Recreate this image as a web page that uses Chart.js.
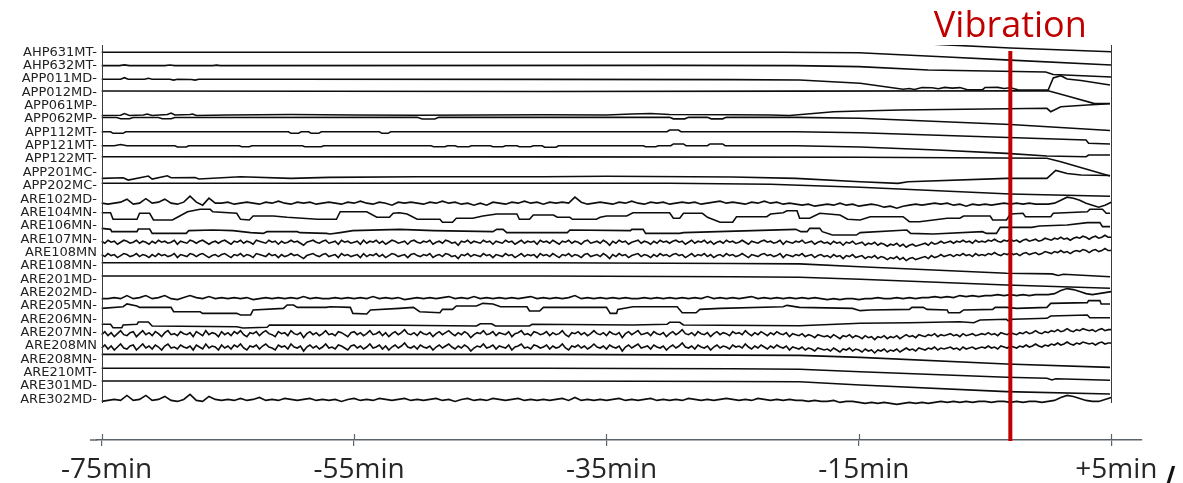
<!DOCTYPE html>
<html>
<head>
<meta charset="utf-8">
<title>Channel traces around the vibration</title>
<script src="https://cdn.jsdelivr.net/npm/chart.js@4.4.1/dist/chart.umd.min.js"></script>
<style>
  html, body { margin: 0; padding: 0; background: #fff; }
  #wrap { width: 1183px; height: 483px; }
</style>
</head>
<body>
<div id="wrap"><canvas id="traces" width="1183" height="483"></canvas></div>
<script>
// row labels, top to bottom
const channelLabels = [
  "AHP631MT-", "AHP632MT-", "APP011MD-", "APP012MD-", "APP061MP-", "APP062MP-",
  "APP112MT-", "APP121MT-", "APP122MT-", "APP201MC-", "APP202MC-", "ARE102MD-",
  "ARE104MN-", "ARE106MN-", "ARE107MN-", "ARE108MN", "ARE108MN-", "ARE201MD-",
  "ARE202MD-", "ARE205MN-", "ARE206MN-", "ARE207MN-", "ARE208MN", "ARE208MN-",
  "ARE210MT-", "ARE301MD-", "ARE302MD-"
];
const timeTicks = [-75, -55, -35, -15, 5]; // minutes
const vibrationTime = -3;

// noisy channels are sampled evenly from -75 to +5 min
const sampleStart = -75;
const sampleEnd = 5;

// slow channels: [minute, level]; level is offset from the row, up is positive
const aboveTop = [[-75,0],[-21,0],[-15,-1],[-8,-6],[-3,-9],[5,-12.8]];
const ahp631mt = [[-75,0],[-21,0],[-15,-0.4],[-8,-4.7],[-3,-7.8],[5,-12.7]];
const ahp632mt = [[-75,0],[-73.6,0],[-73.2,0.8],[-72.8,0],[-70,0],[-69.6,0.7],[-69.2,0],[-66.2,0],[-65.9,0.5],[-65.6,0],
  [-30,0.3],[-20,0],[-15,-1],[-9.5,-4.3],[-0.2,-6.3],[0.4,-8.8],[5,-11.3]];
const app011md = [[-75,-0.3],[-73.5,-0.3],[-73.2,1.3],[-72.9,-0.3],[-71.6,-0.3],[-71.3,0.7],[-71,-0.3],[-69.6,-0.3],
  [-69.3,-1.1],[-69,-0.3],[-67.9,-0.5],[-67.6,-1.1],[-67.3,-0.3],[-60,-0.3],[-40,-0.4],[-25,-0.6],[-19.7,-1],
  [-14.9,-4.3],[-11.5,-10.3],[-11,-9.5],[-10.6,-10.5],[-10,-8.5],[-9.2,-8.8],[-8.7,-9.8],[-8.2,-8.4],[-7.6,-9.1],
  [-7,-8.6],[-6.4,-10.7],[-5.2,-10.7],[-5,-8.5],[-4,-8.4],[-3.5,-9.5],[-3,-8.7],[-2.4,-10.8],[0,-11],[0.4,1],
  [1,3.3],[1.5,0],[2.6,-1.5],[4.9,-6]];
const app012md = [[-75,1.3],[-40,0.9],[-20,1.2],[0,1.6],[1.8,-4.6],[3.6,-11],[4.9,-11.2]];
const app061mp = [[-75,-9.8],[-73.5,-9.6],[-73.2,-7.8],[-72.8,-9.8],[-71.7,-9.3],[-71.4,-8.3],[-71,-9.8],[-69.8,-8.8],
  [-69.5,-7.3],[-69.2,-9.3],[-68,-8.8],[-67.8,-8.3],[-67.5,-9.8],[-65,-9.3],[-60,-8.8],[-55,-9.3],[-50,-9.6],
  [-45,-9.3],[-40,-9.1],[-35,-9.3],[-33,-8.3],[-31.5,-7.8],[-30,-8.8],[-25,-9.1],[-22,-9.3],[-20.5,-9.8],
  [-17,-6],[-14.9,-5.3],[-11.7,-4.3],[-3.3,-3],[-0.1,-2.6],[0.2,-6],[1,-1],[3.1,0.7],[4.9,2]];
const app062mp = [[-75,1.5],[-73.8,1.5],[-73.5,0.3],[-72.8,0.3],[-72.5,1.5],[-70.5,1.6],[-70.2,0.3],[-69.5,0.3],
  [-69.2,1.6],[-50,1.7],[-49.6,0],[-48.6,0],[-48.3,1.7],[-30,1.7],[-29.7,0.2],[-28.8,0.2],[-28.5,1.7],[-27,1.7],
  [-26.7,0.2],[-25.8,0.2],[-25.5,1.7],[-20,1.7],[-14.9,0.8],[-3,-5.5],[4.9,-11.4]];
const app112mt = [[-75,0.7],[-74.3,0.7],[-74.1,-0.9],[-73.3,-0.9],[-73.1,0.7],[-60.2,0.7],[-60,-0.9],[-59.4,-0.9],
  [-59.2,0.7],[-58.6,0.7],[-58.4,-0.9],[-57.8,-0.9],[-57.6,0.7],[-53,0.7],[-52.8,-0.9],[-52.3,-0.9],[-52.1,0.7],
  [-30.2,0.7],[-30,2.4],[-29.3,2.4],[-29.1,0.7],[-20,0.7],[-14.9,-0.3],[3,-7.6],[3.2,-10.9],[4.9,-11.6]];
const app121mt = [[-75,0],[-74,0],[-73.5,1.2],[-73,0],[-69.2,0],[-69,-1.3],[-68.3,-1.3],[-68.1,0],[-64.1,0],[-63.9,-1],
  [-63.3,-1],[-63.1,0],[-59.1,0],[-58.9,-1],[-57.6,-1],[-57.4,0],[-48.9,0],[-48.7,-1],[-47.8,-1],[-47.6,0],[-47,0],
  [-46.8,-1],[-45.9,-1],[-45.7,0],[-44.2,0],[-44,-1],[-43.2,-1],[-43,0],[-42.1,0],[-41.9,-1],[-41,-1],[-40.8,0],
  [-40.1,0],[-39.9,-1.5],[-39,-1.5],[-38.8,0],[-32.1,0],[-31.9,-1],[-31.1,-1],[-30.9,0],[-29.9,0],[-29.7,1.8],
  [-28.9,1.8],[-28.7,0],[-27,0],[-26.8,1.8],[-25.8,1.8],[-25.6,0],[-20,0],[-14.9,-1.3],[-8.8,-4.3],[-3.3,-7.6],
  [-0.1,-10.3],[3,-11],[3.2,-9.3],[4.9,-9.3]];
const app122mt = [[-75,2.4],[-40,2.2],[-15,1.8],[-0.1,0.8],[1,-2.6],[4.9,-16.9]];
const app201mc = [[-75,-5.9],[-73.3,-5.3],[-72.9,-7.6],[-71.3,-3.6],[-71,-6.6],[-69.8,-3.3],[-69.5,-5.3],[-67.6,-5],
  [-67.3,-6.6],[-64,-4.3],[-60,-5.9],[-57,-4.9],[-50,-4.3],[-40,-4.3],[-35,-3.8],[-25,-4.6],[-20,-5.9],[-14.9,-9.3],
  [-11.9,-10.9],[-11.1,-9.3],[-3.3,-5.9],[-0.1,-5.9],[0.6,2],[1.5,-1.1],[2.6,-2.6],[4.9,-3.1]];
const app202mc = [[-75,2.5],[-30,2.5],[-22,1.5],[-19.7,0.5],[-14.9,-1.5],[-3,-8.2],[4.9,-10.5]];

// stepped channels
const are104mn = [[-75,-0.2],[-74.3,-0.2],[-74.1,-6.8],[-72.2,-6.8],[-72,-0.8],[-71.2,-0.8],[-70.9,-7.5],[-69.4,-7.5],
  [-69,-4.8],[-68.2,0.8],[-67.2,3.2],[-66.4,3.2],[-66.2,0.8],[-64.3,-0.8],[-64,-6.8],[-63.3,-7.5],[-63,-3.5],
  [-61.4,-3.5],[-60.3,-4.8],[-59.1,-5.8],[-57.9,-6.8],[-56.4,-6.8],[-56.1,0.8],[-54,0.8],[-53.2,-4.8],[-52.2,-4.8],
  [-51.9,-0.8],[-51.4,-0.2],[-50.8,-1.5],[-50,-6.8],[-48.2,-6.8],[-48,-9.8],[-47.2,-9.8],[-46.9,-5.8],[-45.6,-5.8],
  [-44.8,-3.5],[-43.7,-1.5],[-42.1,-1.5],[-41.9,-6.8],[-41.1,-6.8],[-40.8,-2.5],[-39.2,-2.5],[-38.9,-4.8],
  [-37.9,-4.8],[-37.7,-6.8],[-35.8,-6.8],[-35.5,-4.8],[-35,-3.5],[-33.4,-3.5],[-32.9,-0.2],[-30,-0.2],[-29.7,-5.8],
  [-29.2,-5.8],[-28.9,-0.8],[-27.4,-0.8],[-27,-4.8],[-26.6,-6.8],[-26,-9.8],[-25,-9.8],[-24.7,-4.2],[-22.3,-4.2],
  [-22,-1.5],[-21,-0.2],[-20.7,1.8],[-19.9,1.8],[-19.7,-5.8],[-18.9,-5.8],[-18.1,-0.8],[-16.5,-2.5],[-15.9,-6.8],
  [-14.9,-7.5],[-14.1,-4.2],[-11.5,-4.2],[-11,-9.2],[-10.2,-9.2],[-8,-5.8],[-7,-5.8],[-6.7,-3.5],[-4.6,-3.5],
  [-4.4,-7.5],[-3.3,-7.5],[-3,-1.5],[-2,-0.8],[-1.8,-4.2],[0.2,-4.2],[0.4,-0.8],[3.1,0.8],[3.3,3.2],[4.3,3.2],
  [4.6,-0.8],[4.9,-0.8]];
const are106mn = [[-75,-2.5],[-74.3,-3.5],[-74.2,-5.8],[-72.2,-5.8],[-72.1,-3.2],[-71.2,-3.2],[-71,-7.5],[-68.3,-7.5],
  [-68.1,-4.8],[-66.2,-4.2],[-64.6,-4.8],[-63.2,-6.8],[-62.2,-7.5],[-61.9,-5.8],[-59.5,-5.8],[-59.3,-6.8],
  [-57.2,-7.5],[-56.9,-8.2],[-56.1,-6.8],[-55.1,-4.8],[-51.4,-3.5],[-48.7,-4.8],[-44,-5.8],[-43.7,-3.5],[-43.2,-3.5],
  [-42.9,-6.8],[-38.1,-6.8],[-37.9,-4.2],[-33.1,-4.8],[-33,-3.5],[-32.1,-3.5],[-31.9,-7.5],[-29.2,-7.5],[-28.9,-6.8],
  [-20,-3.5],[-19.6,-5.8],[-19.1,-5.8],[-18.9,-2.5],[-18.1,-2.5],[-17.9,-5.8],[-17.1,-9.2],[-15.2,-9.2],[-14.9,-6.8],
  [-11.2,-4.2],[-10.9,-7.5],[-9.1,-8.2],[-5.2,-5.8],[-4.9,-7.5],[-4.1,-7.5],[-3.8,-1.5],[-1.3,-1.5],[-0.7,-0.2],
  [1.5,0.8],[3.1,3.2],[4.1,3.2],[4.3,-0.8],[4.9,-0.8]];
const are205mn = [[-75,-2.4],[-73.3,-0.8],[-73,2],[-72.2,0],[-72,-1.4],[-69.5,-1.4],[-69.3,-5.8],[-67.2,-5.8],[-67,-7.4],
  [-64.3,-7.4],[-64,-9],[-63.2,-9],[-63,-4],[-60.6,-2.4],[-60.3,1],[-59.8,1],[-59.5,-1.4],[-57.2,-1.4],[-56.9,-0.8],
  [-55.3,-1.4],[-55.1,-7.4],[-54,-8],[-53.7,-4],[-51.4,-2.4],[-50.3,-1.4],[-49.8,-5.8],[-48.2,-6.8],[-48,-3.4],
  [-47.2,-3.4],[-46.9,0],[-45.3,0],[-44.8,2.6],[-44,2],[-43.4,-0.8],[-41.3,-0.8],[-41.1,-5],[-40.3,-5],[-40,-1.4],
  [-35,-1.4],[-34.7,-7.4],[-34.2,-7.4],[-34.1,-3.4],[-32.9,-0.8],[-29.4,-0.8],[-29,-6.8],[-27.9,-6.8],[-27.6,-3.4],
  [-26,-2.4],[-21,-0.8],[-20.7,0.6],[-19.7,-1.4],[-15.5,-2.4],[-14.9,-4.7],[-14.1,-4],[-11,-3.4],[-10.8,-1.4],
  [-9.9,-1.4],[-9.6,-3.4],[-8,-4],[-7.9,-6.8],[-7,-6.8],[-6.7,-4],[-4.4,-3.4],[-4.2,-1.4],[-3.3,-1.4],[-2.5,-2.4],
  [-0.1,-1.4],[0.2,2.6],[3.1,3.3],[3.2,5.3],[4.1,5.3],[4.2,2],[4.9,2]];
const are206mn = [[-75,-5],[-74.3,-5],[-74.1,-8.4],[-73.4,-8.4],[-73.3,-5.7],[-72.2,-5],[-72.1,-2.7],[-71.3,-2.7],
  [-71,-6.7],[-64.3,-7.4],[-63.8,-8.7],[-61.9,-8],[-61.7,-5.7],[-51.4,-6],[-45.3,-6.7],[-45,-4.4],[-44.1,-4.4],
  [-43.8,-6.7],[-41.1,-6.7],[-40.9,-5],[-32.9,-5.7],[-30.2,-5],[-30,-3],[-29.2,-3],[-28.9,-5.7],[-19.7,-6.4],
  [-14.9,-4],[-11,-3.4],[-7,-2.4],[-5.9,-3.4],[-5.4,-0.7],[-3.3,0],[-3.2,-1.4],[-2.8,0],[-0.1,1],[0.2,3.3],
  [3.1,4.3],[3.3,1.6],[4.9,1.6]];

// flat channels in the lower block
const are108mnLow = [[-75,3.2],[-40,3.2],[-25,2.4],[-19.7,2],[-14.9,-0.8],[-3.3,-7.4],[0.3,-8],[0.8,-9.5],[1.2,-8.4],[4.9,-10.8]];
const are201md = [[-75,3.2],[-40,3.2],[-25,2.5],[-19.7,2],[-14.9,0],[-3.3,-5.8],[4.9,-9]];
const are208mnLow = [[-75,5],[-40,5],[-25,4.2],[-19.7,4],[-14.9,2],[-3.3,-4.6],[4.9,-8]];
const are210mt = [[-75,4.4],[-40,4.4],[-25,4],[-19.7,3.5],[-14.9,1],[-3.3,-4.6],[-0.1,-5.6],[0.3,-7.3],[0.6,-6],[4.9,-7.6]];
const are301md = [[-75,5],[-40,5],[-25,4.5],[-19.7,4.3],[-14.9,1],[-3.3,-5.6],[4.9,-8]];

// noisy channels: MD sensors every 0.5 min (161 samples)
const are102md = [
  -4,-5,-4,-3,0,-5,-4,0.5,-4,-3,
  0,-4,-5,-3,3,-3,-6,1,-4,-4,
  -3,-5,-4,-3,-4,-5,-3,-4,-2,-4,
  -5,-3,-4,-3,-5,-4,-3,-4,-5,-3,
  -4,-2,-4,-5,-3,-4,-6,-3,-4,-3,
  -4,-5,-3,-4,-2,-4,-3,-5,-4,-6,
  -4,-6,-3,-4,-5,-3,-4,-2,-4,-3,
  -5,-3,-4,-3,-4,2,-3,-5,-4,-3,
  -4,-5,-3,-4,-2,-4,-5,-3,-4,-3,
  -5,-4,-3,-4,-3,-5,-4,-3,-2,-4,
  -3,-4,-5,-3,-4,-2,-4,-3,-5,-4,
  -5,-6,-5,-7,-6,-5,-6,-4,-6,-5,
  -7,-6,-5,-6,-8,-7,-9,-7,-6,-5,
  -6,-5,-4,-5,-4,-6,-5,-7,-5,-6,
  -5,-6,-5,-4,-5,-4,-5,-4,-5,-5,
  -5,-4,-1,2,1,-1,-4,-6,-8,-6,-3
];
const are202md = [
  -6,-6,-5,-6,-3,-6,-5,-3,-6,-5,
  -3,-6,-7,-5,-3,-5,-6,-4,-6,-5,
  -6,-5,-6,-5,-7,-6,-5,-6,-5,-6,
  -5,-6,-4,-6,-5,-6,-6,-5,-6,-5,
  -6,-5,-6,-4,-6,-5,-6,-5,-7,-6,
  -5,-6,-5,-6,-5,-4,-6,-5,-6,-4,
  -6,-5,-6,-5,-6,-5,-6,-5,-4,-6,
  -5,-6,-5,-6,-5,-3,-6,-5,-6,-5,
  -6,-5,-6,-5,-6,-6,-5,-6,-5,-6,
  -5,-6,-5,-6,-5,-6,-4,-6,-5,-6,
  -5,-6,-5,-4,-6,-5,-6,-5,-6,-5,
  -6,-5,-6,-5,-6,-7,-6,-7,-6,-6,
  -7,-6,-6,-5,-6,-6,-5,-6,-5,-6,
  -5,-5,-4,-5,-4,-5,-3,-4,-3,-4,
  -3,-3,-2,-3,-2,-3,-2,-3,-2,-2,
  -2,-1,2,4,3,1,-1,-2,-1,0,1
];
const are302md = [
  -2,-1,0,-1,4,-1,0,4,-1,0,
  3,-1,-2,0,5,-1,-2,3,0,-1,
  0,-1,1,-1,0,2,-1,0,-1,1,
  0,-1,0,1,-1,0,-1,0,-2,0,
  1,-1,0,-1,1,0,-1,0,1,-1,
  0,-1,0,1,-1,0,-2,0,1,-1,
  0,-1,1,0,-1,0,1,-1,0,-1,
  0,-1,0,1,-1,2,-1,0,-1,0,
  -1,0,1,-1,0,-1,0,1,-1,0,
  -1,0,-1,1,0,-1,0,-1,0,1,
  0,-1,0,-1,1,0,-1,0,-1,0,
  -1,-1,-2,-1,-2,-2,-1,-3,-2,-2,
  -3,-4,-3,-4,-3,-4,-5,-4,-3,-4,
  -3,-4,-3,-2,-3,-2,-3,-2,-3,-2,
  -2,-3,-2,-2,-3,-2,-3,-2,-2,-3,
  -2,-1,2,4,3,1,-1,-2,-2,0,2
];

// MN sensors every 0.25 min (321 samples)
const are107mn = [
  -2,-4,-1,-3,-2,-5,-3,-1,-2,-4,
  -3,-1,-4,-2,-3,-5,-2,-4,-1,-3,
  -2,-4,-3,-1,-5,-2,-3,-4,-1,-2,
  -4,-2,-1,-3,-5,-3,-2,-4,-2,-1,
  -3,-5,-2,-3,-1,-4,-2,-3,-5,-1,
  -2,-3,-4,-1,-3,-2,-5,-2,-4,-3,
  -1,-3,-2,-4,-6,-3,-2,-1,-3,-4,
  -2,-1,-4,-3,-2,-5,-1,-3,-2,-4,
  -3,-2,-5,-1,-4,-2,-3,-1,-4,-2,
  -5,-3,-1,-2,-4,-3,-2,-5,-2,-1,
  -3,-4,-2,-3,-1,-5,-3,-2,-4,-1,
  -2,-4,-3,-6,-2,-3,-1,-4,-2,-3,
  -4,-1,-3,-2,-5,-2,-3,-4,-1,-3,
  -2,-5,-3,-1,-4,-2,-3,-2,-5,-1,
  -3,-2,-4,-1,-3,-5,-2,-3,-1,-4,
  -2,-3,-5,-2,-1,-4,-3,-2,-4,-1,
  -3,-6,-2,-4,-1,-3,-2,-5,-3,-2,
  -1,-4,-2,-3,-5,-2,-4,-1,-3,-2,
  -4,-2,-1,-3,-2,-5,-3,-1,-4,-2,
  -3,-1,-4,-2,-5,-3,-2,-4,-1,-3,
  -2,-4,-3,-1,-3,-5,-2,-3,-4,-2,
  -1,-3,-2,-4,-3,-1,-5,-2,-3,-4,
  -2,-3,-1,-4,-3,-2,-5,-3,-2,-4,
  -3,-5,-2,-4,-3,-6,-3,-4,-2,-5,
  -4,-3,-6,-4,-5,-3,-6,-4,-5,-7,
  -5,-6,-4,-7,-5,-8,-6,-5,-7,-6,
  -5,-4,-6,-3,-5,-4,-2,-4,-3,-2,
  -4,-2,-3,-1,-3,-2,-4,-1,-3,-2,
  -3,-1,-2,0,-2,-3,-1,-2,0,-2,
  -1,-3,-1,0,-2,-1,0,-2,-1,1,
  0,-1,1,0,2,0,1,-1,1,2,
  1,3,2,0,2,3,1,2,4,2,
  2
];
const are108mn = are107mn; // both sensors record the same signal
const are207mn = [
  -2,1,-3,0,-4,-1,2,-2,-3,0,
  1,-4,-1,2,-2,0,-3,1,-1,-4,
  0,2,-2,-1,-3,1,-1,-2,0,-4,
  1,-1,-3,2,-2,0,-1,-4,1,-2,
  0,-3,1,-1,2,-2,-4,0,-1,1,
  -3,0,2,-1,-2,-4,1,-1,0,-3,
  2,-1,-2,0,-5,-1,1,-2,0,-3,
  -1,2,-2,-1,-3,1,0,-2,-4,0,
  1,-2,0,-3,-1,2,-2,-1,1,-3,
  0,-4,-1,1,-2,0,3,-1,-2,0,
  -3,1,-1,-2,0,-4,-1,1,-2,0,
  2,-1,-3,0,-2,1,-1,-5,-2,0,
  -1,2,-2,-1,1,-3,0,-1,-2,1,
  -4,-1,0,2,-2,-1,-3,1,0,-2,
  -1,1,-3,0,-2,-1,2,-2,-4,0,
  -1,1,-2,0,-3,-1,2,-1,-2,0,
  -3,1,-1,-2,0,-5,-1,1,-2,0,
  2,-2,-1,0,-3,1,-1,-2,0,-4,
  -1,1,-2,0,3,-1,-2,0,-3,1,
  -1,-2,0,-4,-1,1,-2,0,-1,-3,
  1,-1,0,-2,2,-1,-3,0,-2,1,
  -1,-3,0,-2,1,-1,-2,0,-4,-1,
  -2,-3,-1,-4,-2,-3,-5,-2,-3,-4,
  -3,-5,-2,-4,-6,-3,-4,-2,-5,-3,
  -4,-6,-3,-5,-4,-7,-4,-5,-3,-6,
  -4,-5,-3,-6,-4,-2,-4,-3,-5,-2,
  -3,-4,-2,-3,-1,-4,-2,-3,-2,-1,
  -3,-2,-4,-1,-3,-2,-1,-3,-2,-1,
  -2,0,-2,-1,-3,0,-1,-2,0,-1,
  -2,0,-1,1,-1,0,2,0,-1,1,
  0,2,1,3,1,2,4,2,1,3,
  2,4,3,2,3,1,3,4,2,3,
  3
];
const are208mn = are207mn; // same signal as ARE207MN

const rowSeries = [
  ahp631mt, ahp632mt, app011md, app012md, app061mp, app062mp, app112mt, app121mt, app122mt,
  app201mc, app202mc, are102md, are104mn, are106mn, are107mn, are108mn, are108mnLow, are201md,
  are202md, are205mn, are206mn, are207mn, are208mn, are208mnLow, are210mt, are301md, are302md
];

// one row of the stack is 13.35 level units
const ROW_UNITS = 13.35;

function toPoints(series, row) {
  if (Array.isArray(series[0])) {
    return series.map(([t, v]) => ({ x: t, y: row - v / ROW_UNITS }));
  }
  const step = (sampleEnd - sampleStart) / (series.length - 1);
  return series.map((v, k) => ({ x: sampleStart + k * step, y: row - v / ROW_UNITS }));
}

function traceDataset(series, row, name) {
  return {
    label: name,
    data: toPoints(series, row),
    borderColor: "#0d0d0d",
    borderWidth: 1.6,
    pointRadius: 0,
    fill: false,
    tension: 0,
  };
}

let datasets = [traceDataset(aboveTop, -1, "")];
rowSeries.forEach((series, i) => {
  datasets.push(traceDataset(series, i, channelLabels[i]));
});

// frame, tick tops and the vibration marker
const frameAndMarker = {
  id: "frameAndMarker",
  afterDatasetsDraw(chart) {
    const { ctx, chartArea, scales } = chart;
    const x = scales.x;
    const y = scales.y;
    const left = x.getPixelForValue(timeTicks[0]);
    const right = x.getPixelForValue(timeTicks[timeTicks.length - 1]);
    const frameBottom = y.getPixelForValue(channelLabels.length - 0.73);

    ctx.save();
    ctx.strokeStyle = "#3a3a3a";
    ctx.lineWidth = 1;
    ctx.beginPath();
    ctx.moveTo(Math.round(left) + 0.5, chartArea.top);
    ctx.lineTo(Math.round(left) + 0.5, frameBottom);
    ctx.moveTo(Math.round(right) + 0.5, chartArea.top);
    ctx.lineTo(Math.round(right) + 0.5, frameBottom);
    ctx.stroke();

    // axis line reaches a little past the plot on the left
    ctx.strokeStyle = "#5b636b";
    ctx.lineWidth = 1.5;
    ctx.beginPath();
    ctx.moveTo(chartArea.left - 7, chartArea.bottom);
    ctx.lineTo(chartArea.left, chartArea.bottom);
    ctx.stroke();

    ctx.lineWidth = 1.2;
    ctx.beginPath();
    timeTicks.forEach((t) => {
      const px = Math.round(x.getPixelForValue(t)) + 0.5;
      ctx.moveTo(px, chartArea.bottom - 6);
      ctx.lineTo(px, chartArea.bottom);
    });
    ctx.stroke();

    const vx = x.getPixelForValue(vibrationTime);
    ctx.strokeStyle = "#c00000";
    ctx.lineWidth = 4;
    ctx.beginPath();
    ctx.moveTo(vx, chartArea.top + 6);
    ctx.lineTo(vx, chartArea.bottom + 1);
    ctx.stroke();

    ctx.fillStyle = "#c00000";
    ctx.font = '36px "Open Sans"';
    ctx.textAlign = "center";
    ctx.textBaseline = "alphabetic";
    ctx.fillText("Vibration", vx, 37);

    ctx.fillStyle = "#111";
    ctx.font = 'bold 30px "DejaVu Sans"';
    ctx.textAlign = "left";
    ctx.fillText("/", right + 53, 488);
    ctx.restore();
  },
};

Chart.defaults.font.family = "DejaVu Sans";

new Chart(document.getElementById("traces"), {
  type: "line",
  data: { datasets: datasets },
  options: {
    responsive: false,
    animation: false,
    devicePixelRatio: 1,
    layout: { padding: { top: 45, right: 41, left: 0, bottom: 0 } },
    plugins: {
      legend: { display: false },
      tooltip: { enabled: false },
    },
    scales: {
      x: {
        type: "linear",
        min: -75.372,
        max: 7.433,
        afterBuildTicks: (scale) => {
          scale.ticks = timeTicks.map((v) => ({ value: v }));
        },
        afterFit: (scale) => {
          scale.height = 43;
        },
        grid: {
          display: true,
          drawOnChartArea: false,
          drawTicks: true,
          tickLength: 6,
          color: "#5b636b",
          lineWidth: 1.2,
        },
        border: { display: true, color: "#5b636b", width: 1.5 },
        ticks: {
          autoSkip: false,
          maxRotation: 0,
          minRotation: 0,
          labelOffset: 5,
          padding: 7,
          color: "#262626",
          font: { family: "Open Sans", size: 28 },
          callback: (v) => (v > 0 ? "+" : "") + v + "min",
        },
      },
      y: {
        type: "linear",
        reverse: true,
        min: -0.547,
        max: 29.04,
        afterBuildTicks: (scale) => {
          scale.ticks = channelLabels.map((_, i) => ({ value: i }));
        },
        afterFit: (scale) => {
          scale.width = 97;
        },
        grid: { display: false, drawTicks: false },
        border: { display: false },
        ticks: {
          autoSkip: false,
          padding: 0,
          color: "#222",
          font: { family: "DejaVu Sans", size: 13 },
          callback: (v) => channelLabels[v],
        },
      },
    },
  },
  plugins: [frameAndMarker],
});
</script>
</body>
</html>
